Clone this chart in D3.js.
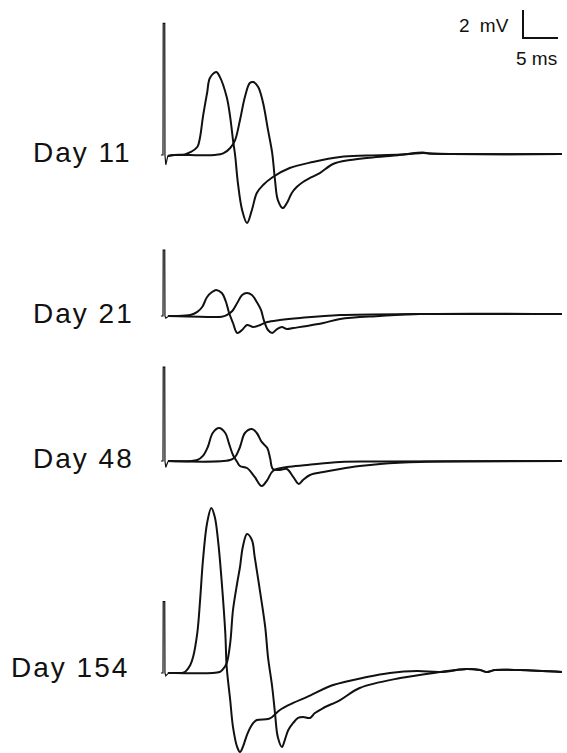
<!DOCTYPE html>
<html>
<head>
<meta charset="utf-8">
<script src="https://cdn.jsdelivr.net/npm/d3@7"></script>
<style>
  body { margin: 0; background: #fff; }
  svg { display: block; }
</style>
</head>
<body>
<div id="chart"></div>
<script>
// recordings: time in ms after stimulus, amplitude in mV from baseline
const days = ["Day 11", "Day 21", "Day 48", "Day 154"]

// stimulus artifact height and the small dip right after it (mV)
const artifactPeak = [9.4, 4.7, 6.7, 5.1]
const artifactDip = [-0.7, -0.15, -0.45, -0.2]

// early response (first trace)
const early11 = [[0.7,-0.07],[1.7,0],[3.1,0.04],[3.9,0.2],[4.9,0.57],[5.3,1.29],[5.7,2.71],[6.3,4.43],[6.7,5.5],[7.6,5.93],[8.1,5.6],[9.1,4.14],[9.6,2.71],[10.0,1.07],[10.3,0],[10.7,-2.0],[11.3,-3.93],[12.0,-4.86],[12.7,-3.93],[13.4,-2.71],[14.3,-2.14],[15.7,-1.57],[18.1,-0.93],[21.4,-0.5],[25.3,-0.14],[29.1,-0.04],[33.9,0.04],[37.1,0.18],[38.1,0.11],[41,0.07],[57,0.07]]
const early21 = [[0.7,0],[1.7,0],[3.9,0.07],[4.9,0.29],[5.6,0.64],[6.3,1.36],[7.0,1.71],[7.6,1.86],[8.4,1.64],[9.0,1.0],[9.4,0.29],[10.0,-0.5],[10.6,-1.21],[11.3,-1.0],[12.0,-0.64],[12.9,-0.79],[13.9,-0.64],[14.9,-0.43],[16.7,-0.29],[19.6,-0.14],[25.3,0.07],[36.7,0.14],[57,0.14]]
const early48 = [[0.7,0],[4.9,0.07],[5.7,0.36],[6.4,1.0],[7.1,2.0],[8.0,2.36],[8.9,2.0],[9.4,1.29],[10.0,0.43],[10.6,-0.07],[11.0,-0.36],[12.0,-0.5],[13.1,-1.14],[14.1,-1.79],[14.9,-1.36],[15.7,-0.71],[17.7,-0.43],[20.6,-0.29],[25.3,-0.07],[31,-0.04],[57,0]]
const early154 = [[0.7,0],[1.7,0],[3.1,0.07],[3.9,0.57],[4.3,1.14],[4.9,2.86],[5.3,5.21],[5.7,8.0],[6.3,10.71],[6.9,11.79],[7.4,11.14],[7.9,9.29],[8.4,6.43],[8.9,2.86],[9.1,0.43],[9.6,-1.93],[10.0,-3.86],[10.6,-5.29],[11.0,-5.64],[11.4,-5.29],[12.1,-4.29],[12.9,-3.57],[13.4,-3.36],[15.0,-3.29],[15.6,-3.14],[16.7,-2.64],[18.6,-2.14],[20.6,-1.71],[24.3,-0.86],[29.1,-0.29],[32.4,0],[36.3,0.14],[39.6,0.07],[43.4,0.29],[45.3,0.21],[46.3,0.07],[47.4,0.21],[51,0.21],[57,0.07]]

// late response (second trace)
const late11 = [[0.7,-0.07],[1.7,0],[5.3,-0.02],[7.4,0],[8.6,0.11],[9.6,0.5],[10.3,1.07],[11.0,2.5],[11.7,4.14],[12.4,5.14],[12.9,5.21],[13.6,4.86],[14.3,3.71],[15.0,1.79],[15.6,0.14],[16.0,-1.79],[16.4,-3.21],[17.1,-3.79],[17.7,-3.43],[18.4,-2.71],[19.1,-2.29],[20.0,-1.93],[21.0,-1.64],[22.4,-1.29],[24.3,-0.64],[26.7,-0.36],[29.1,-0.21],[32.4,-0.07],[37.1,0.14],[38.1,0.11],[41,0.07],[57,0.07]]
const late21 = [[0.7,0],[5.3,-0.05],[8.4,-0.05],[9.1,0.07],[9.9,0.36],[10.6,0.93],[11.3,1.5],[12.0,1.64],[12.7,1.5],[13.4,1.0],[14.0,0.43],[14.4,-0.29],[15.0,-1.0],[15.6,-1.21],[16.3,-0.93],[17.0,-0.79],[17.7,-0.93],[18.6,-0.86],[20.6,-0.71],[22.9,-0.5],[25.3,-0.21],[31,0],[36.7,0.14],[57,0.14]]
const late48 = [[0.7,0],[9.6,0.07],[10.3,0.29],[11.0,1.0],[11.7,2.0],[12.7,2.29],[13.4,2.0],[14.1,1.36],[14.9,0.93],[15.3,0.21],[15.7,-0.57],[16.7,-0.64],[17.7,-0.57],[18.6,-1.14],[19.4,-1.64],[20.0,-1.36],[21.0,-1.0],[22.9,-0.79],[25.3,-0.57],[28.1,-0.36],[31,-0.21],[36.7,-0.07],[57,0]]
const late154 = [[0.7,0],[1.7,0],[8.1,0.07],[8.6,0.29],[9.1,0.71],[9.6,2.14],[10.0,4.5],[10.6,6.43],[11.0,7.57],[11.4,9.0],[12.0,9.93],[12.7,9.5],[13.1,8.29],[13.9,5.71],[14.6,3.29],[15.0,1.14],[15.6,-1.0],[16.0,-2.86],[16.4,-4.57],[17.0,-5.29],[17.4,-4.79],[17.9,-4.07],[18.6,-3.57],[19.3,-3.21],[20.0,-3.14],[21.0,-3.21],[21.7,-2.86],[22.9,-2.5],[25.3,-1.93],[28.1,-1.07],[33.9,-0.36],[39.6,0.07],[43.4,0.29],[45.3,0.21],[46.3,0.07],[47.4,0.21],[51,0.21],[57,0.07]]

const earlyTraces = [early11, early21, early48, early154]
const lateTraces = [late11, late21, late48, late154]

// calibration bar
const barMV = 2
const barMS = 5

const width = 567
const height = 753
// vertical position of each panel's baseline, and where its label sits
const panelBase = [155, 316, 461, 673]
const labelPos = [{ x: 33, y: 162 }, { x: 33, y: 323 }, { x: 33, y: 468 }, { x: 11, y: 677 }]

const x = d3.scaleLinear().domain([0, 57]).range([163, 562])
// 14 px per mV, zero at the panel baseline
const y = d3.scaleLinear().domain([-10, 10]).range([140, -140])

const svg = d3.select("#chart")
  .append("svg")
  .attr("width", width)
  .attr("height", height)

svg.append("rect").attr("width", width).attr("height", height).attr("fill", "#fff")

const line = d3.line()
  .x(d => x(d[0]))
  .y(d => y(d[1]))
  .curve(d3.curveCatmullRom.alpha(0.5))

const spike = d3.line()
  .x(d => x(d[0]))
  .y(d => y(d[1]))

days.forEach((day, i) => {
  const g = svg.append("g").attr("transform", `translate(0,${panelBase[i]})`)

  const art = [[-0.3, 0], [0, 0], [0.03, artifactPeak[i]], [0.25, artifactPeak[i]], [0.28, 0], [0.4, artifactDip[i]], [0.7, -0.05]]
  g.append("path")
    .attr("d", spike(art))
    .attr("fill", "none")
    .attr("stroke", "#111")
    .attr("stroke-width", 1.2)

  ;[earlyTraces[i], lateTraces[i]].forEach(tr => {
    g.append("path")
      .attr("d", line(tr))
      .attr("fill", "none")
      .attr("stroke", "#111")
      .attr("stroke-width", 2)
      .attr("stroke-linejoin", "round")
  })

  svg.append("text")
    .attr("x", labelPos[i].x)
    .attr("y", labelPos[i].y)
    .attr("font-family", "Liberation Sans, Arial, sans-serif")
    .attr("font-size", 28)
    .attr("letter-spacing", 2)
    .attr("fill", "#111")
    .text(day)
})

// scale bar, lengths from the same scales as the traces
const bar = svg.append("g").attr("transform", "translate(523,38)")
bar.append("path")
  .attr("d", `M0,${y(barMV)}V0H${x(barMS) - x(0)}`)
  .attr("fill", "none")
  .attr("stroke", "#111")
  .attr("stroke-width", 2)

svg.append("text")
  .attr("x", 459)
  .attr("y", 32)
  .attr("font-family", "Liberation Sans, Arial, sans-serif")
  .attr("font-size", 19)
  .attr("word-spacing", 5)
  .attr("fill", "#111")
  .text(`${barMV} mV`)

svg.append("text")
  .attr("x", 516)
  .attr("y", 65)
  .attr("font-family", "Liberation Sans, Arial, sans-serif")
  .attr("font-size", 19)
  .attr("fill", "#111")
  .text(`${barMS} ms`)
</script>
</body>
</html>
